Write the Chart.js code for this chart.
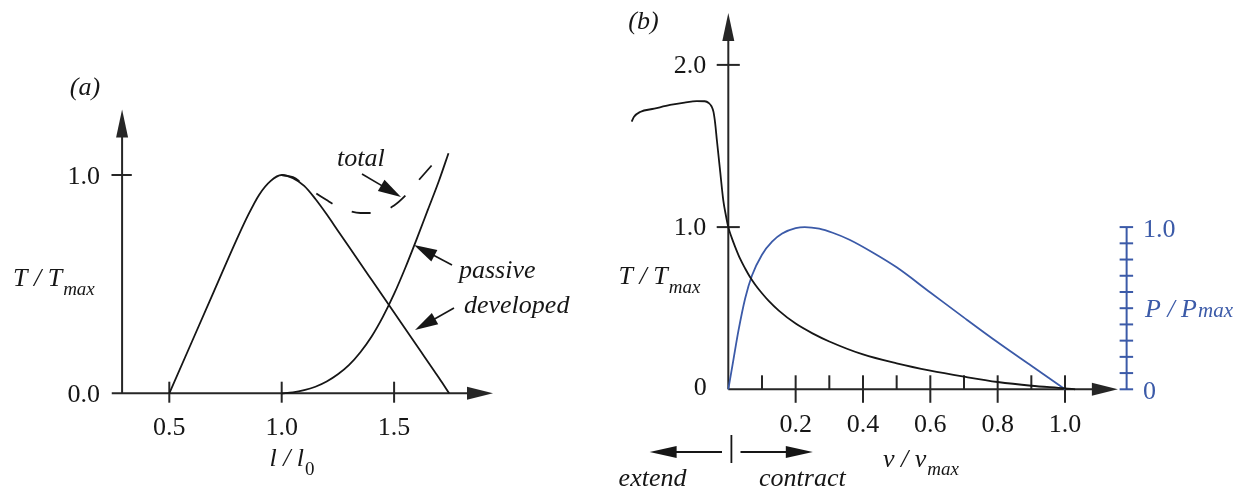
<!DOCTYPE html>
<html>
<head>
<meta charset="utf-8">
<script src="https://cdn.jsdelivr.net/npm/chart.js@4/dist/chart.umd.min.js"></script>
<style>
  html, body { margin: 0; padding: 0; background: #fff; }
  #wrap { position: relative; width: 1242px; height: 490px; overflow: hidden; }
  canvas { position: absolute; top: 0; }
  #panelA { left: 0; }
  #panelB { left: 600px; }
</style>
</head>
<body>
<div id="wrap">
  <canvas id="panelA" width="600" height="490"></canvas>
  <canvas id="panelB" width="642" height="490"></canvas>
</div>
<script>
// ---------- (a) length–tension ----------
const lengthDeveloped  = [0.5, 0.6, 0.7, 0.8, 0.85, 0.9, 0.95, 1.0, 1.05, 1.1, 1.15, 1.2, 1.25, 1.3, 1.4, 1.5, 1.6, 1.7, 1.745];
const tensionDeveloped = [0, 0.235, 0.47, 0.705, 0.815, 0.91, 0.972, 1.0, 0.985, 0.95, 0.89, 0.82, 0.745, 0.67, 0.52, 0.37, 0.22, 0.07, 0];

const lengthPassive  = [1.0, 1.05, 1.1, 1.15, 1.2, 1.25, 1.3, 1.35, 1.4, 1.45, 1.5, 1.55, 1.6, 1.65, 1.7, 1.742];
const tensionPassive = [0, 0.004, 0.014, 0.03, 0.054, 0.087, 0.13, 0.188, 0.26, 0.35, 0.455, 0.575, 0.705, 0.84, 0.975, 1.10];

const lengthTotal  = [1.0, 1.05, 1.1, 1.15, 1.2, 1.25, 1.3, 1.35, 1.4, 1.45, 1.5, 1.55, 1.6, 1.668];
const tensionTotal = [1.0, 0.99, 0.955, 0.918, 0.885, 0.855, 0.835, 0.826, 0.826, 0.835, 0.86, 0.905, 0.965, 1.045];

const lengthTicks = [0.5, 1.0, 1.5];
const lengthTickLabels = ['0.5', '1.0', '1.5'];
const tensionTicksA = [0, 1.0];
const tensionTickLabelsA = ['0.0', '1.0'];

// ---------- (b) force–velocity and power ----------
const velocityForce = [-0.287, -0.28, -0.262, -0.22, -0.173, -0.13, -0.094, -0.07, -0.058, -0.05, -0.044, -0.039, -0.034, -0.025, -0.015, -0.007,
                       0, 0.01, 0.02, 0.035, 0.05, 0.064, 0.08, 0.1, 0.12, 0.15, 0.2, 0.25, 0.3, 0.4, 0.5, 0.6, 0.7, 0.8, 0.9, 1.0, 1.03];
const forceValues   = [1.65, 1.68, 1.71, 1.73, 1.753, 1.768, 1.777, 1.776, 1.765, 1.745, 1.71, 1.64, 1.537, 1.36, 1.167, 1.07,
                       1.0, 0.935, 0.88, 0.805, 0.745, 0.694, 0.645, 0.592, 0.545, 0.485, 0.405, 0.345, 0.295, 0.215, 0.16, 0.115, 0.078, 0.045, 0.022, 0.006, 0];

const velocityPower = [0, 0.015, 0.03, 0.05, 0.07, 0.1, 0.13, 0.16, 0.2, 0.227, 0.27, 0.31, 0.36, 0.43, 0.5, 0.6, 0.7, 0.8, 0.9, 1.0];
const powerValues   = [0, 0.18, 0.36, 0.56, 0.70, 0.83, 0.91, 0.96, 0.993, 1.0, 0.99, 0.965, 0.922, 0.842, 0.752, 0.597, 0.442, 0.29, 0.145, 0];

const velocityMajorTicks = [0.2, 0.4, 0.6, 0.8, 1.0];
const velocityTickLabels = ['0.2', '0.4', '0.6', '0.8', '1.0'];
const velocityMinorTicks = [0.1, 0.3, 0.5, 0.7, 0.9];
const tensionTicksB = [1.0, 2.0];
const tensionTickLabelsB = ['1.0', '2.0'];
const powerTicks = [0, 0.1, 0.2, 0.3, 0.4, 0.5, 0.6, 0.7, 0.8, 0.9, 1.0];
const powerTickLabelValues = [0, 1.0];
const powerTickLabels = ['0', '1.0'];

// ---------- styling ----------
const INK = '#161616';
const AXIS = '#262626';
const BLUE = '#3b5aa8';
const SERIF = '"Liberation Serif", "Times New Roman", "DejaVu Serif", serif';
const TICK_FONT = `26px ${SERIF}`;
const ITALIC_FONT = `italic 26px ${SERIF}`;
const SUB_FONT = `italic 19px ${SERIF}`;
const SUB_UPRIGHT = `19px ${SERIF}`;

function points(xs, ys) { return xs.map((x, i) => ({ x, y: ys[i] })); }

function line(ctx, x1, y1, x2, y2) {
  ctx.beginPath(); ctx.moveTo(x1, y1); ctx.lineTo(x2, y2); ctx.stroke();
}
// filled arrowhead with its point at (tx, ty), coming from (fx, fy)
function arrowHead(ctx, fx, fy, tx, ty, len, half) {
  const a = Math.atan2(ty - fy, tx - fx);
  const bx = tx - Math.cos(a) * len, by = ty - Math.sin(a) * len;
  const nx = -Math.sin(a) * half, ny = Math.cos(a) * half;
  ctx.beginPath();
  ctx.moveTo(tx, ty); ctx.lineTo(bx + nx, by + ny); ctx.lineTo(bx - nx, by - ny);
  ctx.closePath(); ctx.fill();
}
function arrow(ctx, fx, fy, tx, ty, len, half) {
  const a = Math.atan2(ty - fy, tx - fx);
  line(ctx, fx, fy, tx - Math.cos(a) * len * 0.8, ty - Math.sin(a) * len * 0.8);
  arrowHead(ctx, fx, fy, tx, ty, len, half);
}
function text(ctx, str, x, y, font, align, color) {
  ctx.font = font; ctx.textAlign = align || 'left'; ctx.textBaseline = 'alphabetic';
  ctx.fillStyle = color || INK; ctx.fillText(str, x, y);
}
// main text followed by a smaller subscript-style part; x is the left edge
function subLabel(ctx, main, sub, x, y, subY, subFont, color) {
  text(ctx, main, x, y, ITALIC_FONT, 'left', color);
  ctx.font = ITALIC_FONT;
  const w = ctx.measureText(main).width;
  text(ctx, sub, x + w + 1, subY, subFont, 'left', color);
}
function subLabelWidth(ctx, main, sub, subFont) {
  ctx.font = ITALIC_FONT; const w1 = ctx.measureText(main).width;
  ctx.font = subFont; return w1 + 1 + ctx.measureText(sub).width;
}

// ---------- (a) axes and annotations ----------
const panelAFrame = {
  id: 'panelAFrame',
  beforeDatasetsDraw(chart) {
    const { ctx, scales: { x, y } } = chart;
    const ox = x.getPixelForValue(0.29), oy = y.getPixelForValue(0);
    ctx.save();
    ctx.strokeStyle = AXIS; ctx.fillStyle = AXIS; ctx.lineWidth = 2; ctx.lineCap = 'butt';
    // vertical axis with arrow
    const topY = y.getPixelForValue(1.30);
    line(ctx, ox, oy, ox, topY + 20);
    arrowHead(ctx, ox, oy, ox, topY, 28, 6);
    // horizontal axis with arrow
    const leftX = x.getPixelForValue(0.244), tipX = x.getPixelForValue(1.94);
    line(ctx, leftX, oy, tipX - 20, oy);
    arrowHead(ctx, leftX, oy, tipX, oy, 26, 6.5);
    // ticks
    tensionTicksA.forEach(v => { if (v > 0) { const py = y.getPixelForValue(v); line(ctx, ox - 10.6, py, ox + 9.7, py); } });
    lengthTicks.forEach(v => { const px = x.getPixelForValue(v); line(ctx, px, oy - 11.6, px, oy + 9.4); });
    ctx.restore();
  },
  afterDraw(chart) {
    const { ctx, scales: { x, y } } = chart;
    const ox = x.getPixelForValue(0.29), oy = y.getPixelForValue(0);
    ctx.save();
    tensionTicksA.forEach((v, i) => text(ctx, tensionTickLabelsA[i], ox - 22, y.getPixelForValue(v) + 8.5, TICK_FONT, 'right'));
    lengthTicks.forEach((v, i) => text(ctx, lengthTickLabels[i], x.getPixelForValue(v), oy + 42, TICK_FONT, 'center'));

    text(ctx, '(a)', 85, 95, ITALIC_FONT, 'center');
    subLabel(ctx, 'T / T', 'max', 13, 286, 295, SUB_FONT);
    const lx = 292 - subLabelWidth(ctx, 'l / l', '0', SUB_UPRIGHT) / 2;
    text(ctx, 'l / l', lx, 466, ITALIC_FONT, 'left');
    ctx.font = ITALIC_FONT;
    text(ctx, '0', lx + ctx.measureText('l / l').width + 1, 475, SUB_UPRIGHT, 'left');

    text(ctx, 'total', 337, 166, ITALIC_FONT, 'left');
    text(ctx, 'passive', 459, 278, ITALIC_FONT, 'left');
    text(ctx, 'developed', 464, 313, ITALIC_FONT, 'left');

    ctx.strokeStyle = INK; ctx.fillStyle = INK; ctx.lineWidth = 1.6;
    arrow(ctx, 362, 174, 401, 197, 23, 6.5);
    arrow(ctx, 452, 265, 414, 245, 23, 6.5);
    arrow(ctx, 454, 308, 415, 330, 23, 6.5);
    ctx.restore();
  }
};

// ---------- (b) axes and annotations ----------
const panelBFrame = {
  id: 'panelBFrame',
  beforeDatasetsDraw(chart) {
    const { ctx, scales: { x, y, yP } } = chart;
    const ox = x.getPixelForValue(0), oy = y.getPixelForValue(0);
    ctx.save();
    ctx.strokeStyle = AXIS; ctx.fillStyle = AXIS; ctx.lineWidth = 2;
    // vertical axis
    const topY = y.getPixelForValue(2.32);
    line(ctx, ox, oy, ox, topY + 20);
    arrowHead(ctx, ox, oy, ox, topY, 28, 6);
    // horizontal axis
    const tipX = x.getPixelForValue(1.157);
    line(ctx, ox, oy, tipX - 20, oy);
    arrowHead(ctx, ox, oy, tipX, oy, 26, 6.5);
    // ticks
    tensionTicksB.forEach(v => { const py = y.getPixelForValue(v); line(ctx, ox - 11.6, py, ox + 11.5, py); });
    velocityMajorTicks.forEach(v => { const px = x.getPixelForValue(v); line(ctx, px, oy - 14, px, oy + 13.5); });
    velocityMinorTicks.forEach(v => { const px = x.getPixelForValue(v); line(ctx, px, oy - 14, px, oy); });
    // power axis on the right
    const rx = x.getPixelForValue(1.183);
    ctx.strokeStyle = BLUE;
    line(ctx, rx, yP.getPixelForValue(0), rx, yP.getPixelForValue(1.0));
    powerTicks.forEach(v => { const py = yP.getPixelForValue(v); line(ctx, rx - 7, py, rx + 6.5, py); });
    ctx.restore();
  },
  afterDraw(chart) {
    const { ctx, scales: { x, y, yP } } = chart;
    const ox = x.getPixelForValue(0), oy = y.getPixelForValue(0);
    const rx = x.getPixelForValue(1.183);
    ctx.save();
    tensionTicksB.forEach((v, i) => text(ctx, tensionTickLabelsB[i], ox - 22, y.getPixelForValue(v) + 8, TICK_FONT, 'right'));
    text(ctx, '0', ox - 21.5, oy + 5.5, TICK_FONT, 'right');
    velocityMajorTicks.forEach((v, i) => text(ctx, velocityTickLabels[i], x.getPixelForValue(v), oy + 43, TICK_FONT, 'center'));
    powerTickLabelValues.forEach((v, i) => text(ctx, powerTickLabels[i], rx + 16.5, yP.getPixelForValue(v) + 9.5, TICK_FONT, 'left', BLUE));

    text(ctx, '(b)', 43.5, 29, ITALIC_FONT, 'center');
    subLabel(ctx, 'T / T', 'max', 18.6, 284, 293, SUB_FONT);
    subLabel(ctx, 'v / v', 'max', 283, 467, 475, SUB_FONT);
    subLabel(ctx, 'P / P', 'max', 545, 317, 317, `italic 21px ${SERIF}`, BLUE);

    text(ctx, 'extend', 18.6, 486, ITALIC_FONT, 'left');
    text(ctx, 'contract', 159, 486, ITALIC_FONT, 'left');
    ctx.strokeStyle = INK; ctx.fillStyle = INK; ctx.lineWidth = 1.8;
    arrow(ctx, 122, 452, 49.6, 452, 27, 6);
    arrow(ctx, 140.5, 452, 212.8, 452, 27, 6);
    line(ctx, 131.4, 435, 131.4, 463);
    ctx.restore();
  }
};

const curve = (data, color, extra) => Object.assign({
  data, borderColor: color, borderWidth: 1.8, pointRadius: 0, fill: false,
  cubicInterpolationMode: 'monotone'
}, extra || {});

const baseOptions = (scales, padding) => ({
  responsive: false, animation: false, events: [],
  layout: { padding },
  plugins: { legend: { display: false }, tooltip: { enabled: false }, title: { display: false } },
  scales
});

new Chart(document.getElementById('panelA'), {
  type: 'line',
  data: {
    datasets: [
      curve(points(lengthDeveloped, tensionDeveloped), INK),
      curve(points(lengthPassive, tensionPassive), INK),
      curve(points(lengthTotal, tensionTotal), INK, { borderDash: [19, 21] })
    ]
  },
  options: baseOptions({
    x: { type: 'linear', min: 0.2, max: 2.0, display: false },
    y: { type: 'linear', min: -0.2, max: 1.4, display: false }
  }, { left: 101.86, right: 93.5, top: 87.68, bottom: 53.04 }),
  plugins: [panelAFrame]
});

new Chart(document.getElementById('panelB'), {
  type: 'line',
  data: {
    datasets: [
      curve(points(velocityForce, forceValues), INK),
      curve(points(velocityPower, powerValues), BLUE, { yAxisID: 'yP' })
    ]
  },
  options: baseOptions({
    x: { type: 'linear', min: -0.35, max: 1.25, display: false },
    y: { type: 'linear', min: -0.3, max: 2.4, display: false },
    yP: { type: 'linear', min: -0.3, max: 2.4, display: false }
  }, { left: 10.46, right: 92.82, top: 0.02, bottom: 52.04 }),
  plugins: [panelBFrame]
});
</script>
</body>
</html>
